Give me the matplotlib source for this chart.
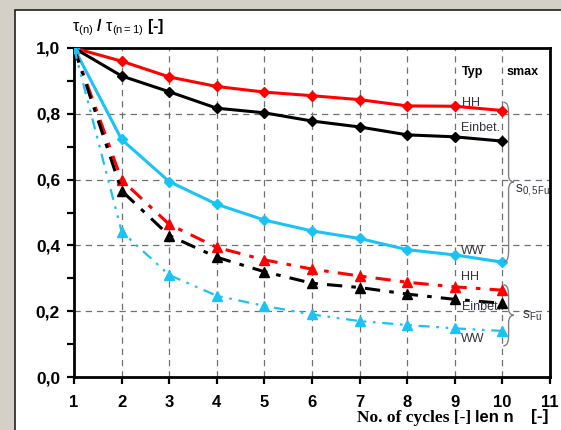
import numpy as np
import matplotlib.pyplot as plt
from matplotlib.path import Path
from matplotlib.patches import PathPatch, Rectangle

# Data
cycles = [1, 2, 3, 4, 5, 6, 7, 8, 9, 10]
hh_smax05 = [1.0, 0.960, 0.912, 0.883, 0.866, 0.855, 0.843, 0.824, 0.823, 0.810]
einbet_smax05 = [1.0, 0.915, 0.867, 0.817, 0.803, 0.778, 0.760, 0.736, 0.730, 0.717]
ww_smax05 = [1.0, 0.722, 0.594, 0.525, 0.477, 0.444, 0.421, 0.387, 0.371, 0.349]
hh_sfu = [1.0, 0.599, 0.464, 0.394, 0.356, 0.328, 0.307, 0.288, 0.274, 0.264]
einbet_sfu = [1.0, 0.566, 0.430, 0.364, 0.320, 0.285, 0.272, 0.252, 0.236, 0.224]
ww_sfu = [1.0, 0.442, 0.310, 0.247, 0.216, 0.190, 0.170, 0.158, 0.148, 0.140]

yticks = [0.0, 0.2, 0.4, 0.6, 0.8, 1.0]
ytick_labels = ['0,0', '0,2', '0,4', '0,6', '0,8', '1,0']
xticks = list(range(1, 12))

RED = '#ff0000'
BLACK = '#000000'
CYAN = '#19c3f5'
TXT = '#33333f'

plt.rcParams['font.family'] = ['Liberation Sans', 'DejaVu Sans']
plt.rcParams['mathtext.fontset'] = 'custom'
plt.rcParams['mathtext.rm'] = 'Liberation Sans'
plt.rcParams['mathtext.it'] = 'Liberation Sans'
plt.rcParams['mathtext.bf'] = 'Liberation Sans:bold'

fig = plt.figure(figsize=(5.61, 4.30), dpi=100)
fig.patch.set_facecolor('#d4d0c8')
# white panel
fig.patches.append(Rectangle((15 / 561, -0.01), 1.0, 1 - 10 / 430 + 0.01,
                             transform=fig.transFigure, facecolor='white',
                             edgecolor='#202020', linewidth=1.2, zorder=-5))

ax = fig.add_axes([74 / 561, 1 - 377 / 430, (550 - 74) / 561, (377 - 48) / 430])
ax.set_zorder(2)
ax.set_facecolor('white')
ax.set_xlim(1, 11)
ax.set_ylim(0, 1.0)

for s in ax.spines.values():
    s.set_linewidth(2.0)
    s.set_color('black')

ax.set_xticks(xticks)
ax.set_xticklabels([str(v) for v in xticks], fontweight='bold', fontsize=12)
ax.set_yticks(yticks)
ax.set_yticklabels(ytick_labels, fontweight='bold', fontsize=12.5)
ax.set_yticks([0.1, 0.3, 0.5, 0.7, 0.9], minor=True)
ax.tick_params(axis='both', which='both', direction='out', width=1.6, color='black')
ax.tick_params(axis='y', which='major', length=5, pad=5)
ax.tick_params(axis='y', which='minor', length=5)
ax.tick_params(axis='x', which='major', length=5, pad=8)

# grid
for xv in range(2, 11):
    ax.axvline(xv, color='#707070', lw=0.9, dashes=(5, 4), zorder=1)
for yv in [0.2, 0.4, 0.6, 0.8]:
    ax.axhline(yv, color='#707070', lw=0.9, dashes=(5, 4), zorder=1)

# solid lines (s0,5Fu)
ax.plot(cycles, hh_smax05, color=RED, lw=2.2, marker='D', ms=5, zorder=3)
ax.plot(cycles, einbet_smax05, color=BLACK, lw=2.2, marker='D', ms=5, zorder=3)
ax.plot(cycles, ww_smax05, color=CYAN, lw=2.2, marker='D', ms=5, zorder=3)

# dashed lines (sFu)
ax.plot(cycles, hh_sfu, color=RED, lw=2.2, dashes=(5, 3, 1.5, 3), marker='^', ms=7, zorder=3)
ax.plot(cycles, einbet_sfu, color=BLACK, lw=2.2, dashes=(5, 3, 1.5, 3), marker='^', ms=7, zorder=3)
ax.plot(cycles, ww_sfu, color=CYAN, lw=1.6, dashes=(5, 3, 1.2, 3, 1.2, 3), marker='^', ms=7, zorder=3)


def brace(ax, x, y0, y1, w):
    # right curly brace from y1 (top) to y0 (bottom), tip at x + w
    ym = (y0 + y1) / 2
    h = w * 0.5
    verts = [(x, y1), (x + h, y1), (x + h, y1 - 0.02), (x + h, y1 - 0.04),
             (x + h, ym + 0.02),
             (x + h, ym), (x + w, ym), (x + w, ym),
             (x + h, ym), (x + h, ym - 0.02), (x + h, ym - 0.02),
             (x + h, y0 + 0.04),
             (x + h, y0 + 0.02), (x + h, y0), (x, y0)]
    codes = [Path.MOVETO, Path.CURVE4, Path.CURVE4, Path.CURVE4,
             Path.LINETO,
             Path.CURVE4, Path.CURVE4, Path.CURVE4,
             Path.CURVE4, Path.CURVE4, Path.CURVE4,
             Path.LINETO,
             Path.CURVE4, Path.CURVE4, Path.CURVE4]
    ax.add_patch(PathPatch(Path(verts, codes), fill=False, edgecolor='#808080',
                           lw=1.0, clip_on=False, zorder=4))


brace(ax, 10.02, 0.35, 0.835, 0.22)
brace(ax, 10.02, 0.095, 0.28, 0.22)

ax.text(9.14, 0.928, 'Typ', fontsize=9, fontweight='bold', va='center')
ax.text(10.09, 0.928, 'smax', fontsize=9, fontweight='bold', va='center')
ax.text(9.15, 0.834, 'HH', fontsize=9, color=TXT, va='center')
ax.text(9.12, 0.758, 'Einbet.', fontsize=9, color=TXT, va='center')
ax.text(9.13, 0.383, 'WW', fontsize=9, color=TXT, va='center')
ax.text(9.13, 0.305, 'HH', fontsize=9, color=TXT, va='center')
ax.text(9.15, 0.212, 'Einbet.', fontsize=9, color=TXT, va='center')
ax.text(9.13, 0.115, 'WW', fontsize=9, color=TXT, va='center')
ax.text(10.26, 0.568, r's$_{0,5Fu}$', fontsize=10, color=TXT, va='center')
ax.text(10.42, 0.185, r's$_{Fu}$', fontsize=10, color=TXT, va='center')

# axis titles
fig.text(72 / 561, 1 - 28 / 430, r'$\tau_{(n)}$ / $\tau_{(n=1)}$ [-]', fontsize=11.5,
         fontweight='bold', va='center', ha='left')
fig.text(357 / 561, 1 - 418 / 430, 'No. of cycles [-]', fontsize=12.5,
         fontweight='bold', family='Liberation Serif', va='center', ha='left')
fig.text(475 / 561, 1 - 417 / 430, 'len n', fontsize=12,
         fontweight='bold', va='center', ha='left')
fig.text(531 / 561, 1 - 417 / 430, '[-]', fontsize=12.5,
         fontweight='bold', va='center', ha='left')

fig.savefig('out.png', dpi=100)
